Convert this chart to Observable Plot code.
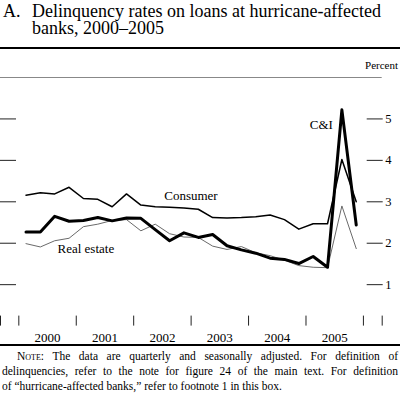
<!DOCTYPE html>
<html><head><meta charset="utf-8">
<script src="https://cdn.jsdelivr.net/npm/d3@7"></script>
<script src="https://cdn.jsdelivr.net/npm/@observablehq/plot@0.6"></script>
<style>
body{margin:0;background:#fff;font-family:"Liberation Serif","Times New Roman",serif;color:#000}
#wrap{position:relative;width:400px;height:400px;overflow:hidden}
.tl{position:absolute;font-size:18px;line-height:16px;white-space:nowrap}
.rule{position:absolute;left:0;width:400px;height:2px;background:#000}
#percent{position:absolute;right:2px;top:60px;font-size:11px;line-height:11px}
#chart{position:absolute;left:0;top:48px;width:400px}
#chart svg{display:block}
#note{position:absolute;left:2px;top:349px;width:396px;font-size:11.5px;line-height:15px}
#note .j{text-align:justify;text-align-last:justify}
.sc{font-variant:small-caps}
</style>
</head><body>
<div id="wrap">
  <div class="tl" style="left:3px;top:3px">A.</div>
  <div class="tl" style="left:32px;top:3px">Delinquency rates on loans at hurricane-affected</div>
  <div class="tl" style="left:32px;top:20px">banks, 2000–2005</div>
  <div class="rule" style="top:47px"></div>
  <div id="percent">Percent</div>
  <div id="chart"></div>
  <div class="rule" style="top:344px"></div>
  <div id="note">
    <div class="j" style="padding-left:15px"><span class="sc">Note</span>: The data are quarterly and seasonally adjusted. For definition of</div>
    <div class="j">delinquencies, refer to the note for figure 24 of the main text. For definition</div>
    <div>of “hurricane-affected banks,” refer to footnote 1 in this box.</div>
  </div>
</div>
<script>
const quarters = ["2000Q1","2000Q2","2000Q3","2000Q4","2001Q1","2001Q2","2001Q3","2001Q4",
  "2002Q1","2002Q2","2002Q3","2002Q4","2003Q1","2003Q2","2003Q3","2003Q4",
  "2004Q1","2004Q2","2004Q3","2004Q4","2005Q1","2005Q2","2005Q3","2005Q4"];
const candi = [2.27,2.27,2.65,2.53,2.55,2.62,2.54,2.61,2.60,2.33,2.06,2.25,2.14,2.21,1.94,1.84,1.76,1.64,1.61,1.51,1.68,1.42,5.22,2.44];
const consumer = [3.16,3.22,3.19,3.35,3.08,3.06,2.88,3.19,2.92,2.88,2.87,2.85,2.82,2.62,2.61,2.62,2.64,2.68,2.57,2.34,2.47,2.47,4.02,3.00];
const realEstate = [1.99,1.91,2.06,2.12,2.40,2.46,2.55,2.57,2.30,2.46,2.23,2.15,2.14,1.93,1.85,1.92,1.77,1.70,1.59,1.46,1.42,1.41,2.90,1.87];
const yearLabels = ["2000","2001","2002","2003","2004","2005"];
const xMin = 1999.681, xMax = 2006.327;
const yearBounds = [xMin,2000,2001,2002,2003,2004,2005,2006,xMax];
const yTicks = [1,2,3,4,5];
const yTop = 6;

const qx = s => +s.slice(0,4) + (+s.slice(5) - 0.5) / 4;
const toRows = vals => quarters.map((q, i) => ({x: qx(q), v: vals[i]}));
const rowsC = toRows(candi), rowsCons = toRows(consumer), rowsR = toRows(realEstate);
const yearMids = yearLabels.map(y => +y + 0.5);

const font = "'Liberation Serif', 'Times New Roman', serif";
const chart = Plot.plot({
  width: 400, height: 296,
  marginTop: 29, marginBottom: 18.4, marginLeft: 0, marginRight: 18.3,
  x: {domain: [xMin, xMax], label: null},
  y: {domain: [0, yTop], label: null},
  style: {fontFamily: font, fontSize: "13px", background: "transparent", overflow: "visible", color: "#000"},
  marks: [
    Plot.ruleY([yTop], {stroke: "#888", strokeWidth: 1}),
    Plot.axisX(yearBounds, {tickSize: -10, tickFormat: () => "", stroke: "#222", label: null}),
    Plot.axisX(yearMids, {tickSize: 0, tickPadding: 6.5, tickFormat: d => String(Math.floor(d)), fontSize: 13, fill: "#000", label: null}),
    Plot.axisY(yTicks, {anchor: "right", tickSize: -16, tickFormat: () => "", stroke: "#222", label: null}),
    Plot.axisY(yTicks, {anchor: "left", tickSize: -16, tickFormat: () => "", stroke: "#222", label: null}),
    Plot.text(yTicks, {x: () => xMax, y: d => d, text: d => String(d), textAnchor: "start", dx: 3, fontSize: 12.5, fill: "#000"}),
    Plot.line(rowsR, {x: "x", y: "v", stroke: "#6a6a6a", strokeWidth: 1}),
    Plot.line(rowsCons, {x: "x", y: "v", stroke: "#000", strokeWidth: 1.5}),
    Plot.line(rowsC, {x: "x", y: "v", stroke: "#000", strokeWidth: 3}),
    Plot.text([rowsCons[11]], {x: "x", y: "v", text: () => "Consumer", dx: 7, dy: -12, fontSize: 13, fill: "#000"}),
    Plot.text([rowsR[4]], {x: "x", y: "v", text: () => "Real estate", dx: 2.4, dy: 22, fontSize: 13, fill: "#000"}),
    Plot.text([rowsC[22]], {x: "x", y: "v", text: () => "C&I", dx: -9, dy: 15, textAnchor: "end", fontSize: 13, fill: "#000"})
  ]
});
document.getElementById("chart").appendChild(chart);
</script>
</body></html>
